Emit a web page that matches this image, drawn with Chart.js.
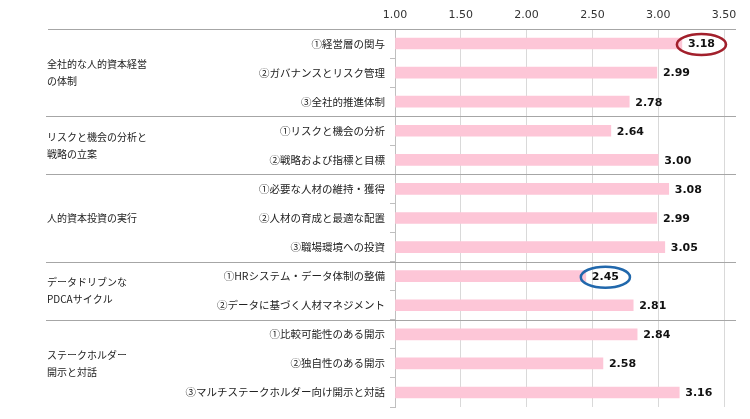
<!DOCTYPE html>
<html lang="ja">
<head>
<meta charset="utf-8">
<title>人的資本経営 評価</title>
<script src="https://cdn.jsdelivr.net/npm/chart.js@4.4.1/dist/chart.umd.min.js"></script>
<style>
  html, body { margin: 0; padding: 0; background: #fff; }
  #wrap { width: 750px; height: 419px; position: relative; }
</style>
</head>
<body>
<div id="wrap"><canvas id="chart"></canvas></div>
<script>
// 項目ラベル
const items = [
    '①経営層の関与',
    '②ガバナンスとリスク管理',
    '③全社的推進体制',
    '①リスクと機会の分析',
    '②戦略および指標と目標',
    '①必要な人材の維持・獲得',
    '②人材の育成と最適な配置',
    '③職場環境への投資',
    '①HRシステム・データ体制の整備',
    '②データに基づく人材マネジメント',
    '①比較可能性のある開示',
    '②独自性のある開示',
    '③マルチステークホルダー向け開示と対話'
];
const scores = [3.18, 2.99, 2.78, 2.64, 3.00, 3.08, 2.99, 3.05, 2.45, 2.81, 2.84, 2.58, 3.16];

// グループ名（改行ごと）と項目数
const groupNames = [
    ['全社的な人的資本経営', 'の体制'],
    ['リスクと機会の分析と', '戦略の立案'],
    ['人的資本投資の実行'],
    ['データドリブンな', 'PDCAサイクル'],
    ['ステークホルダー', '開示と対話']
];
const groupSizes = [3, 2, 3, 2, 3];

// 軸
const axisMin = 1.0;
const axisMax = 3.5;
const axisStep = 0.5;

// 丸で囲む値
const circled = [
    { index: 0, color: '#a2202c' },
    { index: 8, color: '#2168ac' }
];

const jpFont = '"Noto Sans CJK JP", "Noto Sans", sans-serif';
const numFont = '"DejaVu Sans", Verdana, sans-serif';

const groupPlugin = {
    id: 'groups',
    afterDraw(chart) {
        const ctx = chart.ctx;
        const y = chart.scales.y;
        const area = chart.chartArea;
        ctx.save();
        ctx.strokeStyle = '#a6a6a6';
        ctx.lineWidth = 1;
        // 上端の線
        ctx.beginPath();
        ctx.moveTo(48, area.top + 0.5);
        ctx.lineTo(736, area.top + 0.5);
        ctx.stroke();

        let start = 0;
        groupNames.forEach((lines, g) => {
            const end = start + groupSizes[g] - 1;
            const mid = (y.getPixelForValue(start) + y.getPixelForValue(end)) / 2;
            ctx.fillStyle = '#222';
            ctx.font = '10px ' + jpFont;
            ctx.textAlign = 'left';
            ctx.textBaseline = 'middle';
            lines.forEach((t, i) => {
                const off = (i - (lines.length - 1) / 2) * 17;
                ctx.fillText(t, 47, mid + off);
            });
            if (g < groupNames.length - 1) {
                const yy = Math.round((y.getPixelForValue(end) + y.getPixelForValue(end + 1)) / 2) + 0.5;
                ctx.beginPath();
                ctx.moveTo(46, yy);
                ctx.lineTo(736, yy);
                ctx.stroke();
            }
            start = end + 1;
        });
        ctx.restore();
    }
};

const valuePlugin = {
    id: 'values',
    afterDatasetsDraw(chart) {
        const ctx = chart.ctx;
        const meta = chart.getDatasetMeta(0);
        ctx.save();
        ctx.font = 'bold 11px ' + numFont;
        ctx.fillStyle = '#111';
        ctx.textAlign = 'left';
        ctx.textBaseline = 'middle';
        meta.data.forEach((bar, i) => {
            ctx.fillText(scores[i].toFixed(2), bar.x + 6, bar.y + 1);
        });
        circled.forEach(c => {
            const bar = meta.data[c.index];
            const w = ctx.measureText(scores[c.index].toFixed(2)).width;
            const cx = bar.x + 6 + w / 2;
            ctx.strokeStyle = c.color;
            ctx.lineWidth = 2.5;
            ctx.beginPath();
            ctx.ellipse(cx, bar.y + 1, w / 2 + 11, 10.5, 0, 0, Math.PI * 2);
            ctx.stroke();
        });
        ctx.restore();
    }
};

function drawChart() {
    const ctx = document.getElementById('chart').getContext('2d');
    new Chart(ctx, {
        type: 'bar',
        data: {
            labels: items,
            datasets: [{
                data: scores,
                base: axisMin,
                backgroundColor: '#fdc6d7',
                barThickness: 11
            }]
        },
        options: {
            indexAxis: 'y',
            responsive: true,
            maintainAspectRatio: false,
            animation: false,
            layout: { padding: { left: 0, right: 26, top: 0, bottom: 12 } },
            plugins: { legend: { display: false }, tooltip: { enabled: false } },
            scales: {
                x: {
                    position: 'top',
                    min: axisMin,
                    max: axisMax,
                    ticks: {
                        stepSize: axisStep,
                        callback: v => v.toFixed(2),
                        font: { family: numFont, size: 11 },
                        color: '#333',
                        padding: 7
                    },
                    grid: { color: '#d9d9d9', drawTicks: false },
                    border: { display: false },
                    afterFit: s => { s.height = 29; }
                },
                y: {
                    ticks: {
                        font: { family: jpFont, size: 10.5 },
                        color: '#222',
                        padding: 5,
                        autoSkip: false
                    },
                    grid: { offset: true, drawOnChartArea: false, tickLength: 5, color: '#bfbfbf' },
                    border: { color: '#bfbfbf' },
                    afterFit: s => { s.width = 395; }
                }
            }
        },
        plugins: [groupPlugin, valuePlugin]
    });
}

document.addEventListener('DOMContentLoaded', drawChart);
</script>
</body>
</html>
